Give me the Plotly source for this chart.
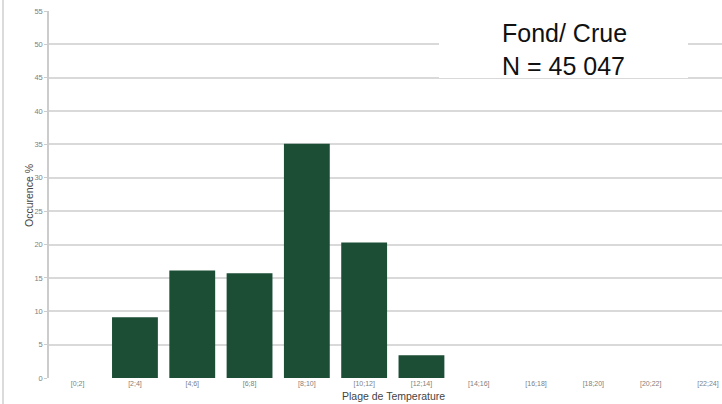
import plotly.graph_objects as go

categories = ["[0;2]", "[2;4]", "[4;6]", "[6;8]", "[8;10]", "[10;12]",
              "[12;14]", "[14;16]", "[16;18]", "[18;20]", "[20;22]", "[22;24]"]
occurrence = [0, 9.1, 16.1, 15.7, 35.1, 20.3, 3.4, 0, 0, 0, 0, 0]
y_ticks = [0, 5, 10, 15, 20, 25, 30, 35, 40, 45, 50, 55]

W, H = 722, 404
L, R, T, B = 49, 0, 11, 26
pw, ph = W - L - R, H - T - B

def px(x):
    return (x - L) / pw

def py(y):
    return (H - B - y) / ph

fig = go.Figure()
fig.add_trace(go.Bar(x=categories, y=occurrence, marker=dict(color="#1b4e35", line=dict(width=0))))

fig.update_layout(
    width=W, height=H,
    margin=dict(l=L, r=R, t=T, b=B, pad=0),
    paper_bgcolor="white", plot_bgcolor="white",
    bargap=0.2, showlegend=False,
    font=dict(family="Liberation Sans, Arial, sans-serif", color="#555555"),
)
fig.update_xaxes(
    type="category", range=[-0.5, 11.245], automargin=False,
    tickfont=dict(size=7, color="#808080"), ticks="", showgrid=False,
    showline=False, zeroline=False,
)
fig.update_yaxes(
    range=[0, 55], tickvals=y_ticks, tickfont=dict(size=7.5, color="#808080"),
    ticks="outside", ticklen=3, tickcolor="#cccccc", automargin=False,
    showgrid=True, gridcolor="#d9d9d9", gridwidth=1.5,
    showline=True, linecolor="#cccccc", linewidth=1.5, zeroline=False,
)

shapes = [
    # outer left frame line
    dict(type="line", xref="paper", yref="paper", x0=px(3), x1=px(3), y0=py(0), y1=py(404),
         line=dict(color="#cfcfcf", width=1.5)),
    # white label box
    dict(type="rect", xref="paper", yref="paper", x0=px(439), x1=px(688), y0=py(78), y1=py(12),
         fillcolor="white", line=dict(width=0), layer="above"),
]
fig.update_layout(shapes=shapes)

fig.add_annotation(text="Fond/ Crue", xref="paper", yref="paper", x=px(564), y=py(33),
                   showarrow=False, font=dict(size=25, color="#111111", family="Liberation Sans, Arial"),
                   xanchor="center", yanchor="middle")
fig.add_annotation(text="N = 45 047", xref="paper", yref="paper", x=px(563), y=py(66),
                   showarrow=False, font=dict(size=25, color="#111111", family="Liberation Sans, Arial"),
                   xanchor="center", yanchor="middle")
fig.add_annotation(text="Plage de Temperature", xref="paper", yref="paper", x=px(393), y=py(396.5),
                   showarrow=False, font=dict(size=10.5, color="#444444"),
                   xanchor="center", yanchor="middle")
fig.add_annotation(text="Occurence %", xref="paper", yref="paper", x=px(29), y=py(196),
                   showarrow=False, textangle=-90, font=dict(size=10.5, color="#444444"),
                   xanchor="center", yanchor="middle")

fig.write_html("out.html", config={"displayModeBar": False},
               post_script="document.body.style.margin='0';document.body.style.overflow='hidden';")
